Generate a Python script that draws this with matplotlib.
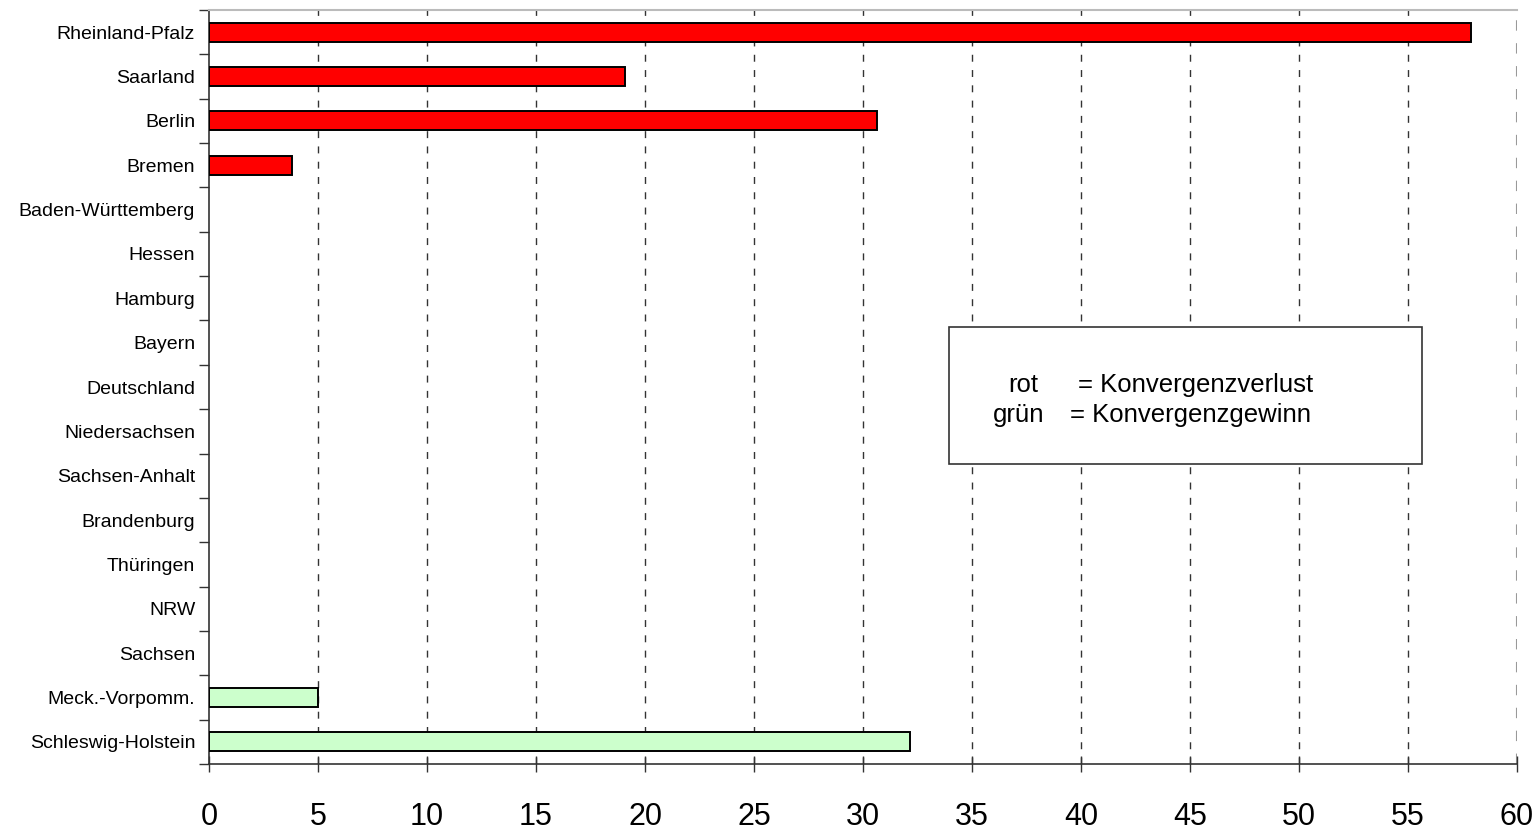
import numpy as np
import matplotlib
matplotlib.use("Agg")
import matplotlib.pyplot as plt
from matplotlib.patches import Rectangle

plt.rcParams['font.family'] = ['Liberation Sans', 'DejaVu Sans']

laender = ['Rheinland-Pfalz', 'Saarland', 'Berlin', 'Bremen', 'Baden-Württemberg',
           'Hessen', 'Hamburg', 'Bayern', 'Deutschland', 'Niedersachsen',
           'Sachsen-Anhalt', 'Brandenburg', 'Thüringen', 'NRW', 'Sachsen',
           'Meck.-Vorpomm.', 'Schleswig-Holstein']
werte = [57.9, 19.1, 30.65, 3.8, 0, 0, 0, 0, 0, 0, 0, 0, 0, 0, 0, 5.0, 32.15]
verlust = [True, True, True, True, False, False, False, False, False, False,
           False, False, False, False, False, False, False]
xticks = list(range(0, 61, 5))

farben = ['#ff0000' if v else '#ccffcc' for v in verlust]

fig = plt.figure(figsize=(15.35, 8.35), dpi=100)
ax = fig.add_axes([0.1362, 0.085, 0.8521, 0.903])

pos = np.arange(len(laender))
for p, w, c in zip(pos, werte, farben):
    if w > 0:
        ax.barh(p, w, height=0.43, color=c, edgecolor='black', linewidth=1.4, zorder=3)

ax.set_xlim(0, 60)
ax.set_ylim(len(laender) - 0.5, -0.5)

ax.set_yticks(pos)
ax.set_yticklabels(laender, fontsize=14)
ax.set_yticks(np.arange(len(laender) + 1) - 0.5, minor=True)
ax.tick_params(axis='y', which='major', length=0, pad=10)
ax.tick_params(axis='y', which='minor', length=7, width=1, color='#333333')

ax.set_xticks(xticks)
ax.set_xticklabels([str(t) for t in xticks], fontsize=22)
ax.tick_params(axis='x', length=11, width=1, color='#333333', pad=22, direction='inout')

for t in xticks[1:-1]:
    ax.axvline(t, color='#333333', linestyle=(0, (5, 6)), linewidth=1, zorder=1)
ax.axvline(60, color='#999999', linestyle=(0, (5, 6)), linewidth=1.5, zorder=1)

ax.spines['right'].set_visible(False)
ax.spines['top'].set_color('#bbbbbb')
ax.spines['top'].set_linewidth(1.5)
ax.spines['left'].set_color('#333333')
ax.spines['bottom'].set_color('#333333')
ax.spines['left'].set_linewidth(1.2)
ax.spines['bottom'].set_linewidth(1.2)

# legend box
ax.add_patch(Rectangle((0.5657, 0.3979), 0.3617, 0.1817, transform=ax.transAxes,
                       facecolor='white', edgecolor='#333333', linewidth=1.2, zorder=4))
ax.text(0.611, 0.5027, 'rot', transform=ax.transAxes, fontsize=18.5, va='center', zorder=5)
ax.text(0.6644, 0.5027, '= Konvergenzverlust', transform=ax.transAxes, fontsize=18.5, va='center', zorder=5)
ax.text(0.599, 0.4629, 'grün', transform=ax.transAxes, fontsize=18.5, va='center', zorder=5)
ax.text(0.658, 0.4629, '= Konvergenzgewinn', transform=ax.transAxes, fontsize=18.5, va='center', zorder=5)

fig.savefig('out.png', dpi=100)
